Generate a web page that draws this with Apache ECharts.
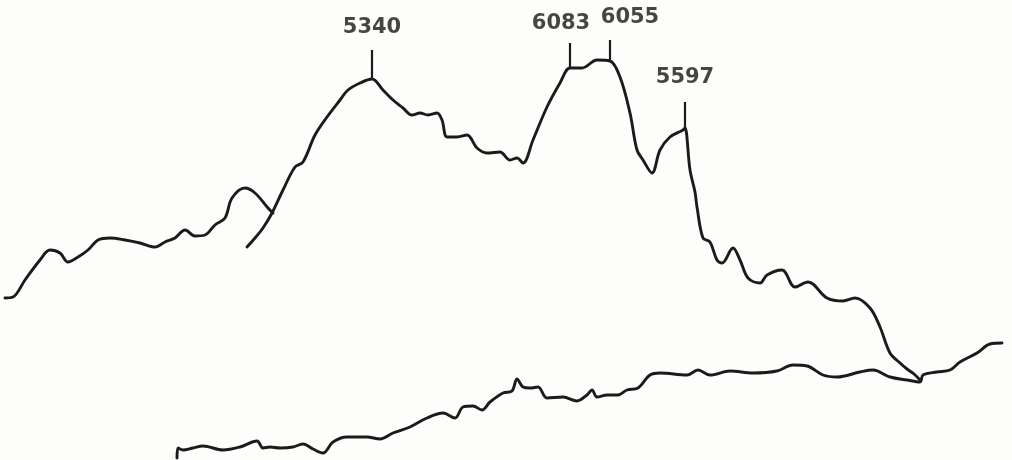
<!DOCTYPE html>
<html>
<head>
<meta charset="utf-8">
<script src="https://cdn.jsdelivr.net/npm/echarts@6/dist/echarts.min.js"></script>
<style>
html,body{margin:0;padding:0;background:#fdfdfb;}
#chart{width:1012px;height:460px;}
</style>
</head>
<body>
<div id="chart"></div>
<script>
// Trace positions (x: horizontal position, y: depth from top)
var traceLeftX = [5,13,25,40,50,60,68,78,88,98,110,125,140,155,165,175,185,195,205,215,225,232,245,255,268,273];
var traceLeftY = [298,297,280,260,250,253,262,257,250,240,238,240,243,247,242,238,230,236,235,225,218,198,188,193,208,213];

var traceMainX = [247,255,263,272,283,295,303,315,327,340,348,360,372,383,393,403,412,420,428,437,442,447,457,467,477,487,500,510,517,523,533,547,560,570,582,597,610,620,630,637,643,652,660,670,683,685,690,695,697,703,710,717,722,733,740,748,760,767,782,795,808,827,843,855,870,880,890,900,907,914,920];
var traceMainY = [247,238,228,213,190,167,162,135,117,100,90,83,79,90,100,108,115,113,115,113,120,137,137,135,148,153,152,160,158,163,140,107,83,68,68,60,61,77,113,150,160,173,150,137,130,128,170,192,207,238,242,260,263,248,260,278,283,275,270,287,282,298,301,298,308,327,353,363,369,374,380];

var baselineX = [177,178,183,193,203,223,240,257,263,270,280,293,303,313,323,333,347,367,380,393,410,427,443,455,463,473,482,490,503,512,517,523,530,538,547,563,577,587,592,597,607,618,627,638,650,660,687,698,710,730,753,777,793,807,823,837,860,873,890,907,920,923,937,950,960,977,990,1002];
var baselineY = [458,448,450,448,446,450,447,441,448,447,448,447,444,449,453,442,437,437,439,433,427,418,413,418,407,406,410,402,393,391,379,387,388,387,398,397,401,395,390,397,395,395,390,388,375,373,375,370,375,371,373,371,365,366,375,377,372,370,377,380,382,375,372,370,362,353,344,343];

// Peak markers
var peakLabels = ['5340','6083','6055','5597'];
var peakX      = [372, 570, 610, 685];
var tickTopY   = [50, 43, 40, 102];
var tickBaseY  = [79, 68, 61, 130];
var labelX     = [372, 561, 630, 685];
var labelY     = [28, 24, 18, 78];

function pairs(xs, ys){ return xs.map(function(x,i){ return [x, ys[i]]; }); }

var tickData = [];
peakX.forEach(function(x,i){
  tickData.push([x, tickBaseY[i]]);
  tickData.push([x, tickTopY[i]]);
  tickData.push(null);
});
var labelData = peakLabels.map(function(t,i){ return {name:t, value:[labelX[i], labelY[i]]}; });

var ink = '#1b1b1b';
var lineStyle = {color: ink, width: 2.9, cap:'round', join:'round'};

var chart = echarts.init(document.getElementById('chart'), null, {renderer:'canvas'});
chart.setOption({
  backgroundColor: '#fdfdfb',
  animation: false,
  grid: {left:0, right:0, top:0, bottom:0},
  xAxis: {type:'value', min:0, max:1012, show:false},
  yAxis: {type:'value', min:0, max:460, inverse:true, show:false},
  series: [
    {type:'line', data: pairs(traceLeftX, traceLeftY), showSymbol:false, smooth:0.35, lineStyle: lineStyle},
    {type:'line', data: pairs(traceMainX, traceMainY), showSymbol:false, smooth:0.35, lineStyle: lineStyle},
    {type:'line', data: pairs(baselineX, baselineY), showSymbol:false, smooth:0.35, lineStyle: lineStyle},
    {type:'line', data: tickData, showSymbol:false, connectNulls:false, lineStyle:{color: ink, width: 2.2}},
    {type:'scatter', data: labelData, symbolSize: 0, itemStyle:{color: ink},
     label:{show:true, position:'inside', formatter: function(p){ return p.name; },
            color:'#161616', textBorderWidth:0, textBorderColor:'transparent',
            fontFamily:'DejaVu Sans', fontWeight:'bold', fontSize:21}}
  ]
});
</script>
</body>
</html>
